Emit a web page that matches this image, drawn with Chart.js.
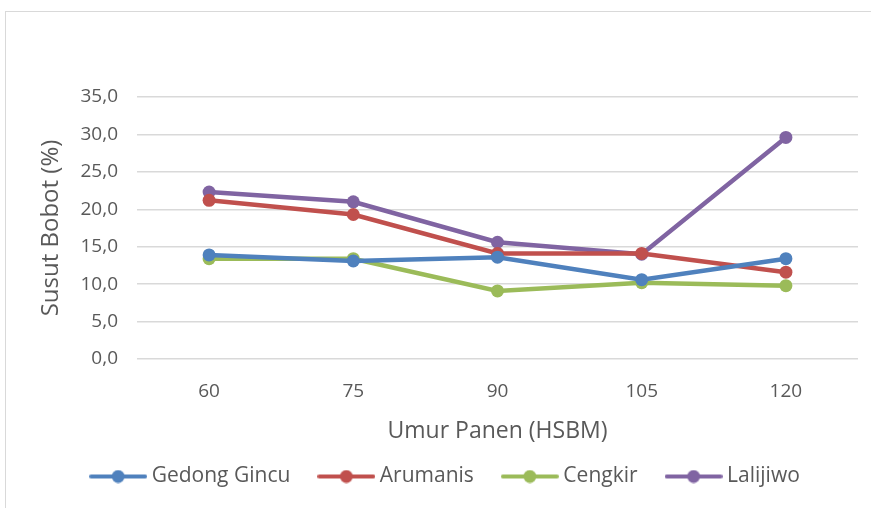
<!DOCTYPE html>
<html>
<head>
<meta charset="utf-8">
<script src="https://cdn.jsdelivr.net/npm/chart.js@4.4.0/dist/chart.umd.min.js"></script>
<style>
    html, body { margin: 0; padding: 0; background: #fff; overflow: hidden; }
    #wrap { position: relative; width: 871px; height: 508px; }
    #frame { position: absolute; left: 5px; top: 11px; width: 880px; height: 520px; border: 1px solid #d9d9d9; box-sizing: border-box; }
    #c { position: absolute; left: 0; top: 0; }
</style>
</head>
<body>
<div id="wrap">
    <div id="frame"></div>
    <canvas id="c" width="871" height="508"></canvas>
</div>
<script>
const categories = ['60', '75', '90', '105', '120'];
const gedongGincu = [13.9, 13.1, 13.6, 10.6, 13.4];
const arumanis = [21.2, 19.3, 14.1, 14.1, 11.6];
const cengkir = [13.4, 13.4, 9.1, 10.2, 9.8];
const lalijiwo = [22.3, 21.0, 15.6, 14.0, 29.6];
const yTicks = [0, 5, 10, 15, 20, 25, 30, 35];

const fontFamily = '"Open Sans", sans-serif';
const textColor = '#595959';

// little line-with-dot marker for legend
function legendMarker(color) {
    const cv = document.createElement('canvas');
    cv.width = 58;
    cv.height = 14;
    const g = cv.getContext('2d');
    g.strokeStyle = color;
    g.lineWidth = 4;
    g.lineCap = 'round';
    g.beginPath();
    g.moveTo(2, 7);
    g.lineTo(56, 7);
    g.stroke();
    g.fillStyle = color;
    g.beginPath();
    g.arc(29, 7, 6.5, 0, Math.PI * 2);
    g.fill();
    return cv;
}

function series(label, data, color) {
    return {
        label: label,
        data: data,
        borderColor: color,
        backgroundColor: color,
        borderWidth: 4.5,
        pointRadius: 6.5,
        pointHoverRadius: 6.5,
        pointBorderWidth: 0,
        pointBackgroundColor: color,
        tension: 0,
        legendMarker: legendMarker(color)
    };
}

const ctx = document.getElementById('c').getContext('2d');

new Chart(ctx, {
    type: 'line',
    data: {
        labels: categories,
        datasets: [
            series('Gedong Gincu', gedongGincu, '#4F81BD'),
            series('Arumanis', arumanis, '#C0504D'),
            series('Cengkir', cengkir, '#9BBB59'),
            series('Lalijiwo', lalijiwo, '#8064A2')
        ]
    },
    options: {
        responsive: false,
        animation: false,
        layout: { padding: { left: 37, right: 13, top: 97, bottom: 11 } },
        plugins: {
            tooltip: { enabled: false },
            legend: {
                position: 'bottom',
                labels: {
                    usePointStyle: true,
                    pointStyleWidth: 46,
                    padding: 33,
                    color: textColor,
                    font: { family: fontFamily, size: 21 },
                    generateLabels: chart => chart.data.datasets.map((ds, i) => ({
                        text: ds.label,
                        pointStyle: ds.legendMarker,
                        fillStyle: ds.borderColor,
                        strokeStyle: ds.borderColor,
                        lineWidth: 0,
                        fontColor: textColor,
                        hidden: false,
                        datasetIndex: i
                    }))
                }
            }
        },
        scales: {
            x: {
                offset: true,
                grid: { display: false, drawTicks: false },
                border: { display: false },
                ticks: { color: textColor, padding: 21, font: { family: fontFamily, size: 19 } },
                title: {
                    display: true,
                    text: 'Umur Panen (HSBM)',
                    color: textColor,
                    padding: { top: 0, bottom: -12 },
                    font: { family: fontFamily, size: 23 }
                },
                afterFit: scale => { scale.height = 74; }
            },
            y: {
                min: 0,
                max: 35,
                afterBuildTicks: scale => { scale.ticks = yTicks.map(v => ({ value: v })); },
                grid: { color: '#d9d9d9', lineWidth: 1.5, drawTicks: false },
                border: { display: false },
                ticks: {
                    color: textColor,
                    padding: 19,
                    font: { family: fontFamily, size: 19 },
                    callback: v => v.toFixed(1).replace('.', ',')
                },
                title: {
                    display: true,
                    text: 'Susut Bobot (%)',
                    color: textColor,
                    padding: { top: 0, bottom: 0 },
                    font: { family: fontFamily, size: 24 }
                },
                afterFit: scale => { scale.width = 100; }
            }
        }
    }
});
</script>
</body>
</html>
